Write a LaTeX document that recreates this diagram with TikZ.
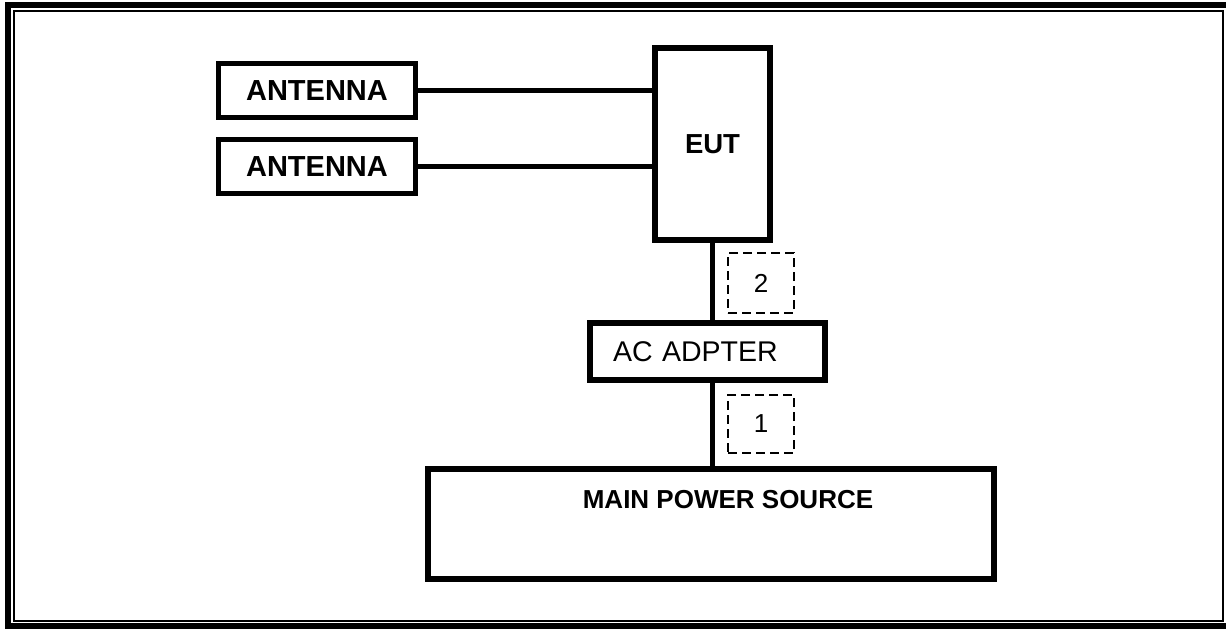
\documentclass[tikz,border=0pt]{standalone}
\usepackage{fontspec}
\setmainfont{Liberation Sans}
\usetikzlibrary{calc}

\begin{document}
\begin{tikzpicture}[
  x=1pt,y=-1pt,
  box/.style={draw,line width=6pt,inner sep=0pt,outer sep=0pt},
  antbox/.style={box,line width=5pt,minimum width=197pt,minimum height=54pt,
    font=\fontsize{29}{34}\selectfont\bfseries},
  tag/.style={draw,line width=2.7pt,dash pattern=on 9pt off 5pt,inner sep=0pt,
    minimum width=66pt,minimum height=60pt,font=\fontsize{26}{30}\selectfont},
  cable/.style={line width=5pt}
]
  % Frame
  \useasboundingbox (0,0) rectangle (1226,629);
  \clip (0,0) rectangle (1226,629);
  \draw[line width=6pt] (8,5) rectangle (1229,626);
  \draw[line width=2pt] (14,10.5) rectangle (1223,620.5);

  % Antennas
  \node[antbox] (ant1) at (317,90.5) {ANTENNA};
  \node[antbox] (ant2) at (317,166.5) {ANTENNA};

  % EUT
  \node[box,minimum width=115pt,minimum height=192pt,
    font=\fontsize{27.5}{32}\selectfont\bfseries] (eut) at (712.5,144) {EUT};

  % AC adapter
  \node[box,text width=189pt,inner xsep=23pt,minimum height=57pt,align=left,
    font=\fontsize{28.5}{33}\selectfont] (ac) at (707.5,351.5) {AC ADPTER};

  % Main power source
  \node[box,minimum width=566pt,minimum height=110pt] (main) at (711,524) {};
  \node[font=\fontsize{26}{30}\selectfont\bfseries] (maintxt) at (728,500) {MAIN POWER SOURCE};

  % Cables
  \draw[cable] (ant1.east) -- (ant1.east -| eut.west);
  \draw[cable] (ant2.east) -- (ant2.east -| eut.west);
  \draw[cable] (eut.south) -- (eut.south |- ac.north);
  \draw[cable] (eut.south |- ac.south) -- (eut.south |- main.north);

  % Cable numbers
  \node[tag] (tag2) at (761,283) {2};
  \node[tag,minimum height=58pt] (tag1) at (761,424) {1};
\end{tikzpicture}
\end{document}
